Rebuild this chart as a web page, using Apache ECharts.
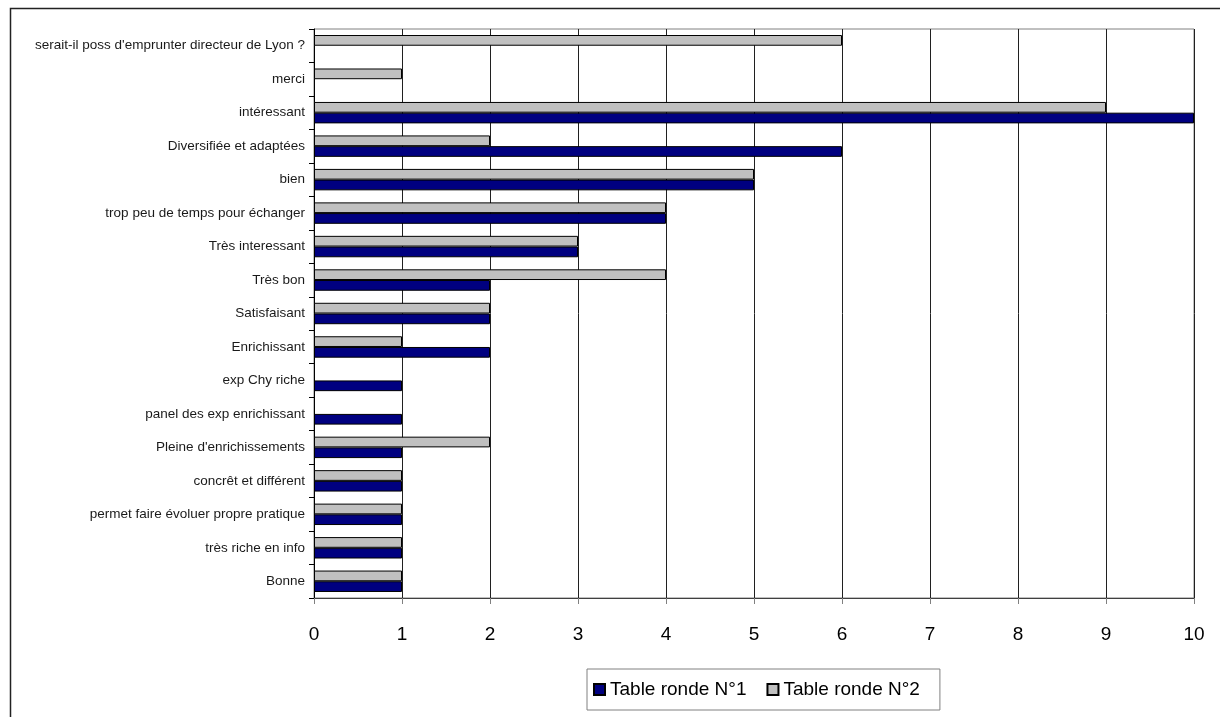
<!DOCTYPE html>
<html>
<head>
<meta charset="utf-8">
<script src="https://cdn.jsdelivr.net/npm/echarts@6/dist/echarts.min.js"></script>
<style>
  html, body { margin: 0; padding: 0; background: #fff; }
  #chart { width: 1220px; height: 717px; }
</style>
</head>
<body>
<div id="chart"></div>
<script>
// Answers listed bottom to top along the category axis
const categories = [
  "Bonne",
  "très riche en info",
  "permet faire évoluer propre pratique",
  "concrêt et différent",
  "Pleine d'enrichissements",
  "panel des exp enrichissant",
  "exp Chy riche",
  "Enrichissant",
  "Satisfaisant",
  "Très bon",
  "Très interessant",
  "trop peu de temps pour échanger",
  "bien",
  "Diversifiée et adaptées",
  "intéressant",
  "merci",
  "serait-il poss d'emprunter directeur de Lyon ?"
];

// Counts per answer; null where the answer was not given at that session
const tableRonde1 = [1, 1, 1, 1, 1, 1, 1, 2, 2, 2, 3, 4, 5, 6, 10, null, null];
const tableRonde2 = [1, 1, 1, 1, 2, null, null, 1, 2, 4, 3, 4, 5, 2, 9, 1, 6];

const seriesNames = ["Table ronde N°1", "Table ronde N°2"];
const xTicks = { min: 0, max: 10, interval: 1 };

const FONT = "'Liberation Sans', Arial, sans-serif";

const chart = echarts.init(document.getElementById('chart'), null, { renderer: 'canvas' });

const barCommon = { type: 'bar', barGap: '0%', barCategoryGap: '36%' };

chart.setOption({
  animation: false,
  backgroundColor: '#ffffff',
  textStyle: { fontFamily: FONT },
  graphic: [{
    type: 'rect',
    shape: { x: 10.5, y: 8.5, width: 1300, height: 800 },
    style: { fill: 'none', stroke: '#222', lineWidth: 1.5 },
    silent: true
  }],
  grid: {
    left: 314, right: 26, top: 29, bottom: 119,
    show: true, borderColor: '#808080', borderWidth: 1,
    containLabel: false
  },
  legend: {
    data: seriesNames,
    left: 587, top: 669,
    orient: 'horizontal',
    padding: [11, 20, 11, 6],
    itemGap: 20,
    itemWidth: 11, itemHeight: 11,
    icon: 'rect',
    borderColor: '#808080', borderWidth: 1,
    textStyle: { fontFamily: FONT, fontSize: 19, color: '#000' }
  },
  xAxis: {
    type: 'value',
    min: xTicks.min, max: xTicks.max, interval: xTicks.interval,
    axisLine: { show: true, lineStyle: { color: '#404040', width: 1 } },
    axisTick: { show: true, length: 6, lineStyle: { color: '#808080' } },
    axisLabel: { fontFamily: FONT, fontSize: 19, color: '#000', margin: 27 },
    splitLine: { show: true, lineStyle: { color: '#202020', width: 1 } }
  },
  yAxis: {
    type: 'category',
    data: categories,
    axisLine: { show: true, lineStyle: { color: '#000', width: 1 } },
    axisTick: { show: true, length: 5, lineStyle: { color: '#000' } },
    axisLabel: { fontFamily: FONT, fontSize: 13.5, color: '#1a1a1a', margin: 9 },
    splitLine: { show: false }
  },
  // Second session listed first so its bar sits above the first session's bar in each row
  series: [
    Object.assign({}, barCommon, {
      name: seriesNames[1],
      data: tableRonde2,
      itemStyle: { color: '#c0c0c0', borderColor: '#000', borderWidth: 1 }
    }),
    Object.assign({}, barCommon, {
      name: seriesNames[0],
      data: tableRonde1,
      itemStyle: { color: '#000080', borderColor: '#000', borderWidth: 1 }
    })
  ]
});
</script>
</body>
</html>
